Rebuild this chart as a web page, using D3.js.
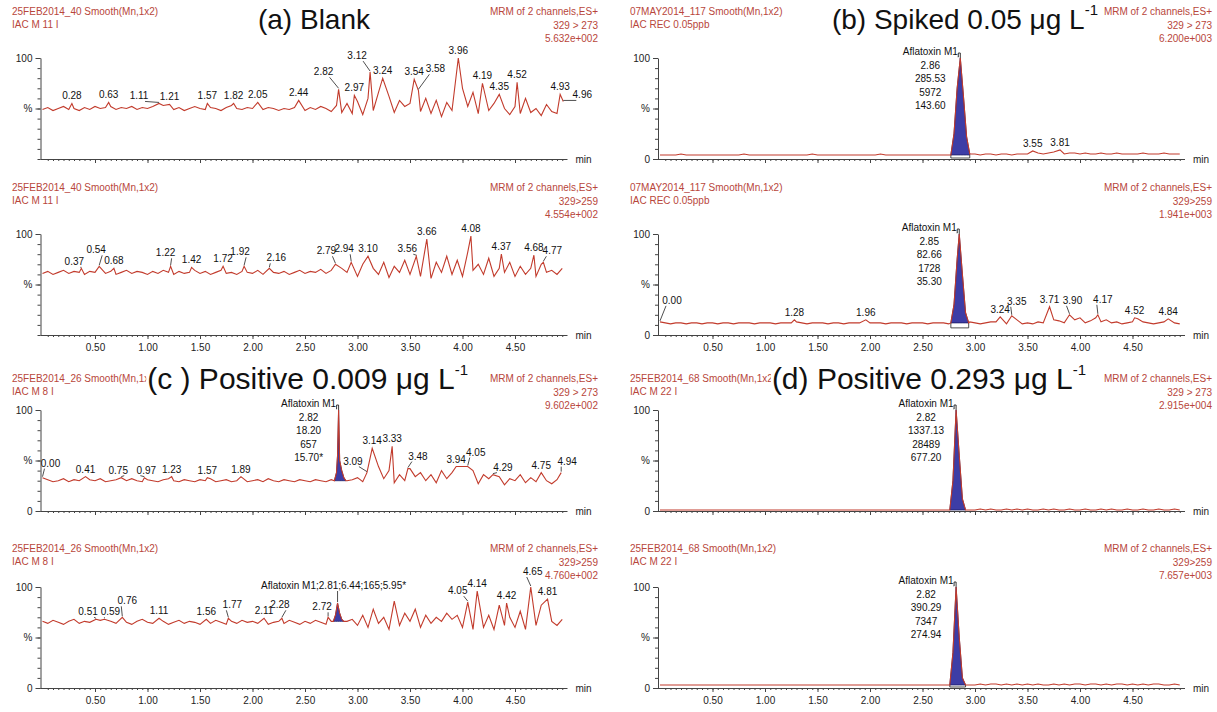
<!DOCTYPE html>
<html>
<head>
<meta charset="utf-8">
<script src="https://cdn.jsdelivr.net/npm/d3@7"></script>
<style>
  body { margin: 0; background: #fff; }
  svg { display: block; }
  text { font-family: "Liberation Sans", Arial, sans-serif; }
</style>
</head>
<body>
<svg id="chart" width="1217" height="712"></svg>
<script>
// sampling step of the baseline arrays (min)
var STEP = 0.05;

// x tick labels (min)
var xTickValues = [0.5, 1.0, 1.5, 2.0, 2.5, 3.0, 3.5, 4.0, 4.5];

// (a) Blank, 329 > 273
var aTopBase = [49,51,48,50,52,49,50,48,51,49, 52,50,51,52,49,51,50,52,49,51,
  50,52,51,53,50,49,51,48,50,52, 50,49,51,50,48,51,53,50,49,51,
  50,52,49,51,50,48,50,49,51,50, 48,51,49,52,50,47,53,46,55,45,
  57,44,60,48,66,50,62,46,58,52, 55,64,47,60,45,58,42,56,48,62,
  70,52,66,45,60,48,55,42,50,44, 52,45,60,46,50,43,54,47,45,50];
var aTopPeaks = [[0.28,55],[0.63,56],[1.11,55],[1.21,54],[1.57,55],[1.82,55],[2.05,56],[2.44,58],
  [2.82,69],[2.97,63],[3.12,86],[3.24,80],[3.54,79],[3.58,68],[3.96,100],[4.19,75],[4.35,64],
  [4.52,76],[4.93,64],[4.96,57]];

// (a) Blank, 329 > 259
var aBotBase = [61,63,60,62,64,61,63,62,60,63, 62,64,61,63,60,62,64,61,63,62,
  60,63,61,64,62,60,63,61,62,64, 61,63,60,62,64,61,62,60,63,62,
  61,64,60,63,62,61,63,60,62,64, 61,63,62,65,61,64,60,66,62,68,
  58,70,62,66,60,72,57,68,62,74, 60,70,58,66,56,72,62,78,60,74,
  58,82,64,70,60,76,58,66,62,72, 58,68,60,66,58,70,62,64,60,66];
var aBotPeaks = [[0.37,66],[0.54,68],[0.68,66],[1.22,68],[1.42,67],[1.72,68],[1.92,68],[2.16,66],
  [2.79,70],[2.94,72],[3.10,78],[3.56,78],[3.66,95],[4.08,98],[4.37,80],[4.68,79],[4.77,72]];

// (b) Spiked, 329 > 273
var bTopBase = [4,4,4,4,5,4,4,4,4,4, 4,4,4,4,4,4,5,4,4,4,
  4,4,4,4,4,4,4,4,4,5, 4,4,4,4,4,4,4,4,4,4,
  4,4,5,4,4,4,4,4,4,4, 4,4,4,4,4,4,4,4,4,4,
  5,4,5,5,4,5,5,4,5,5, 5,6,6,5,6,7,6,5,6,6,
  5,6,5,5,6,5,5,6,5,5, 5,5,6,5,5,5,6,5,5,5];
var bTopPeaks = [[3.55,8],[3.81,9]];
var bTopMain = [[2.77,4],[2.80,25],[2.83,70],[2.86,100],[2.89,62],[2.92,22],[2.95,5]];
var bTopInfo = ["Aflatoxin M1", "2.86", "285.53", "5972", "143.60"];

// (b) Spiked, 329 > 259
var bBotBase = [12,12,11,12,12,11,12,12,11,12, 12,11,12,12,11,12,12,12,11,12,
  12,12,11,12,12,12,13,12,11,12, 12,12,11,12,12,11,12,12,12,11,
  12,12,12,11,12,12,12,11,12,12, 12,11,12,12,12,11,12,12,12,13,
  12,11,12,13,13,12,11,13,15,11, 12,11,13,12,16,15,14,12,13,15,
  17,12,14,17,13,15,12,13,11,12, 13,16,13,12,11,12,13,15,12,11];
var bBotPeaks = [[0.00,13],[1.28,15],[1.96,15],[3.24,18],[3.35,19],[3.71,28],[3.90,20],[4.17,20],[4.52,17],[4.84,16]];
var bBotMain = [[2.77,12],[2.80,30],[2.83,75],[2.85,100],[2.88,60],[2.91,22],[2.94,12]];
var bBotInfo = ["Aflatoxin M1", "2.85", "82.66", "1728", "35.30"];

// (c) Positive 0.009, 329 > 273
var cTopBase = [30,31,29,30,32,29,31,30,29,31, 30,32,29,30,31,29,30,32,30,29,
  31,30,29,31,32,30,29,31,30,29, 31,30,32,29,30,31,29,30,31,29,
  30,31,29,32,30,29,31,30,29,31, 30,29,31,30,29,31,30,29,30,31,
  33,29,38,26,44,32,40,28,36,30, 42,34,38,30,36,28,40,32,38,35,
  44,30,40,27,36,32,28,34,26,32, 30,36,28,33,29,34,30,27,31,30];
var cTopPeaks = [[0.00,33],[0.41,34],[0.75,33],[0.97,33],[1.23,34],[1.57,33],[1.89,34],[3.09,38],
  [3.14,62],[3.33,64],[3.48,42],[3.94,44],[4.05,44],[4.29,36],[4.75,38],[4.94,38]];
var cTopMain = [[2.78,30],[2.80,38],[2.81,55],[2.82,100],[2.83,50],[2.85,40],[2.87,33],[2.89,30]];
var cTopInfo = ["Aflatoxin M1", "2.82", "18.20", "657", "15.70*"];

// (c) Positive 0.009, 329 > 259
var cBotBase = [66,64,67,65,63,66,68,64,66,65, 63,67,65,66,64,67,65,63,66,68,
  65,64,67,66,63,65,67,64,66,65, 63,66,64,67,65,63,66,64,67,65,
  66,64,67,63,65,66,64,67,65,63, 66,64,67,65,63,66,65,64,66,68,
  62,72,60,78,64,70,58,86,62,74, 66,78,60,72,64,70,66,74,68,72,
  60,88,58,78,60,72,58,82,62,70, 60,76,58,70,62,82,60,66,62,68];
var cBotPeaks = [[0.51,68],[0.59,68],[0.76,70],[1.11,69],[1.56,68],[1.77,69],[2.11,69],[2.28,69],
  [2.72,70],[4.05,85],[4.14,96],[4.42,84],[4.65,100],[4.81,88]];
var cBotMain = [[2.77,66],[2.79,72],[2.81,84],[2.83,74],[2.85,68],[2.87,66]];
var cBotInfo = ["Aflatoxin M1;2.81;6.44;165;5.95*"];

// (d) Positive 0.293, 329 > 273
var dTopBase = [1,1,1,1,1,1,1,1,1,1, 1,1,1,1,1,1,1,1,1,1,
  1,1,1,1,1,1,1,1,1,1, 1,1,1,1,1,1,1,1,1,1,
  1,1,1,1,1,1,1,1,1,1, 1,1,1,1,1,1,1,1,1,1,
  1,2,1,2,1,1,2,1,2,1, 2,1,1,2,1,2,1,1,2,1,
  1,2,1,1,2,1,2,1,1,2, 1,1,2,1,1,2,1,1,2,1];
var dTopMain = [[2.76,1],[2.79,30],[2.82,100],[2.85,55],[2.88,12],[2.91,1]];
var dTopInfo = ["Aflatoxin M1", "2.82", "1337.13", "28489", "677.20"];

// (d) Positive 0.293, 329 > 259
var dBotBase = [3,3,3,3,3,3,3,3,3,3, 3,3,3,3,3,3,3,3,3,3,
  3,3,3,3,3,3,3,3,3,3, 3,3,3,3,3,3,3,3,3,3,
  3,3,3,3,3,3,3,3,3,3, 3,3,3,3,3,3,3,3,3,3,
  3,4,3,4,4,3,4,3,4,3, 4,3,4,3,3,4,3,4,3,4,
  4,3,4,4,3,4,3,4,4,3, 4,3,4,3,4,4,3,3,4,3];
var dBotMain = [[2.76,3],[2.79,35],[2.82,100],[2.85,50],[2.88,10],[2.91,3]];
var dBotInfo = ["Aflatoxin M1", "2.82", "390.29", "7347", "274.94"];

// header texts
var leftHeaders = {
  a: ["25FEB2014_40 Smooth(Mn,1x2)", "IAC M 11 I"],
  b: ["07MAY2014_117 Smooth(Mn,1x2)", "IAC REC 0.05ppb"],
  c: ["25FEB2014_26 Smooth(Mn,1x2)", "IAC M 8 I"],
  d: ["25FEB2014_68 Smooth(Mn,1x2)", "IAC M 22 I"]
};
var intensities = ["5.632e+002", "4.554e+002", "6.200e+003", "1.941e+003",
  "9.602e+002", "4.760e+002", "2.915e+004", "7.657e+003"];

// layout of the eight panels (positions only)
var colX = [42.5, 660];              // x of t = 0
var rowZero = [159, 335, 511, 688];  // y of 0 %
var rowHeader = [15, 191, 382, 552]; // baseline of first header line
var plotW = 525, plotH = 101;

var panels = [
  { g: "a", col: 0, row: 0, base: aTopBase, peaks: aTopPeaks, ion: "329 > 273", inten: intensities[0], zero: false,
    nudge: { "1.11": [-20, 0], "2.82": [-15, -10], "3.12": [-13, -9], "3.58": [17, -14], "4.96": [19, 1] } },
  { g: "a", col: 0, row: 1, base: aBotBase, peaks: aBotPeaks, ion: "329>259", inten: intensities[1], zero: false, ticks: true,
    nudge: { "0.37": [-7, 1], "0.54": [-3, -9], "1.22": [-5, -6], "1.92": [-4, -7], "2.16": [7, -3], "2.79": [-9, -6], "2.94": [-7, -6], "3.56": [-9, 0], "4.77": [9, -4] } },
  { g: "b", col: 1, row: 0, base: bTopBase, peaks: bTopPeaks, main: bTopMain, info: bTopInfo, ion: "329 > 273", inten: intensities[2], zero: true, nudge: {} },
  { g: "b", col: 1, row: 1, base: bBotBase, peaks: bBotPeaks, main: bBotMain, info: bBotInfo, ion: "329>259", inten: intensities[3], zero: true, ticks: true,
    nudge: { "0.00": [12, -14], "3.35": [5, -7], "3.90": [3, -7], "4.17": [5, -8] } },
  { g: "c", col: 0, row: 2, base: cTopBase, peaks: cTopPeaks, main: cTopMain, info: cTopInfo, ion: "329 > 273", inten: intensities[4], zero: true,
    nudge: { "0.00": [8, -7], "0.75": [-3, 0], "0.97": [2, 0], "3.09": [-14, -4], "3.48": [10, -5], "4.05": [8, -7], "4.29": [10, 0], "4.94": [6, -4] } },
  { g: "c", col: 0, row: 3, base: cBotBase, peaks: cBotPeaks, main: cBotMain, info: cBotInfo, ion: "329>259", inten: intensities[5], zero: true, ticks: true,
    nudge: { "0.51": [-8, 0], "0.59": [6, 0], "0.76": [5, -9], "1.77": [4, -6], "2.28": [-2, -6], "2.72": [-6, -3], "4.05": [-10, -4], "4.65": [2, -8] } },
  { g: "d", col: 1, row: 2, base: dTopBase, peaks: [], main: dTopMain, info: dTopInfo, ion: "329 > 273", inten: intensities[6], zero: true, nudge: {} },
  { g: "d", col: 1, row: 3, base: dBotBase, peaks: [], main: dBotMain, info: dBotInfo, ion: "329>259", inten: intensities[7], zero: true, ticks: true, nudge: {} }
];

var svg = d3.select("#chart");
var traceColor = "#c23b2c";
var headColor = "#b8463b";
var axisColor = "#444";

panels.forEach(function (p) {
  var x0 = colX[p.col];
  var y0 = rowZero[p.row];
  var x = d3.scaleLinear().domain([0, 5]).range([x0, x0 + plotW]);
  var y = d3.scaleLinear().domain([0, 100]).range([y0, y0 - plotH]);
  var g = svg.append("g");

  // headers
  var hx = p.col === 0 ? 12 : 630;
  var rx = p.col === 0 ? 598 : 1212;
  var hy = rowHeader[p.row];
  var head = g.append("g").attr("fill", headColor).attr("font-size", 10);
  leftHeaders[p.g].forEach(function (s, i) {
    head.append("text").attr("x", hx).attr("y", hy + i * 13).text(s);
  });
  ["MRM of 2 channels,ES+", p.ion, p.inten].forEach(function (s, i) {
    head.append("text").attr("x", rx).attr("y", hy + i * 13.5).attr("text-anchor", "end").text(s);
  });

  // x axis: minor ticks, then major ticks (with labels on lower panels)
  var xMinor = d3.axisBottom(x).tickValues(d3.range(1, 100).map(function (i) { return i * 0.05; }))
    .tickSize(2).tickSizeOuter(0).tickFormat("");
  var xg = g.append("g").attr("transform", "translate(0," + y0 + ")").call(xMinor);
  var xMajor = d3.axisBottom(x).tickValues(xTickValues).tickSize(4).tickSizeOuter(0)
    .tickFormat(p.ticks ? d3.format(".2f") : "");
  var xg2 = g.append("g").attr("transform", "translate(0," + y0 + ")").call(xMajor);
  xg2.select(".domain").remove();
  [xg, xg2].forEach(function (a) {
    a.selectAll("path,line").attr("stroke", axisColor);
    a.selectAll("text").attr("font-size", 10).attr("fill", "#222").attr("dy", "0.9em")
      .attr("font-family", "Liberation Sans, Arial, sans-serif");
  });
  xg.select(".domain").attr("d", "M" + (x0 - 2) + ",0.5H" + (x0 + plotW));
  g.append("text").attr("x", x0 + plotW + 8).attr("y", y0 + 4).attr("font-size", 10).attr("fill", "#222").text("min");

  // y axis
  var yMinor = d3.axisLeft(y).tickValues(d3.range(0, 101, 10)).tickSize(3).tickSizeOuter(0).tickFormat("");
  var yg = g.append("g").attr("transform", "translate(" + (x0 - 2) + ",0)").call(yMinor);
  var yMajor = d3.axisLeft(y).tickValues(p.zero ? [0, 50, 100] : [50, 100]).tickSize(5).tickSizeOuter(0)
    .tickFormat(function (d) { return d === 50 ? "%" : d; });
  var yg2 = g.append("g").attr("transform", "translate(" + (x0 - 2) + ",0)").call(yMajor);
  yg2.select(".domain").remove();
  [yg, yg2].forEach(function (a) {
    a.selectAll("path,line").attr("stroke", axisColor);
    a.selectAll("text").attr("font-size", 10).attr("fill", "#222")
      .attr("font-family", "Liberation Sans, Arial, sans-serif");
  });

  // build the trace from baseline samples, labelled peaks and the main peak
  var pts = p.base.map(function (v, i) { return [i * STEP, v]; });
  var win = p.main ? [p.main[0][0], p.main[p.main.length - 1][0]] : null;
  pts = pts.filter(function (d) {
    if (win && d[0] >= win[0] && d[0] <= win[1]) return false;
    return !p.peaks.some(function (q) { return Math.abs(q[0] - d[0]) < 0.015; });
  });
  pts = pts.concat(p.peaks).concat(p.main || []);
  pts.sort(function (a, b) { return a[0] - b[0]; });

  // main peak fill
  if (p.main) {
    var bl = p.main[0][1];
    var area = d3.area().x(function (d) { return x(d[0]); }).y0(y(bl)).y1(function (d) { return y(d[1]); });
    g.append("path").datum(p.main).attr("d", area).attr("fill", "#3d3da6").attr("stroke", "#1d1d66").attr("stroke-width", 0.8);
    // small integration box under the peak, only when the baseline sits near the axis
    var xa = x(p.main[0][0]), xb = x(p.main[p.main.length - 1][0]);
    var gap = y0 - 1 - y(bl);
    if (gap > 1 && gap < 15) {
      var boxH = Math.min(5, gap);
      g.append("path").attr("d", "M" + xa + "," + y(bl) + "V" + (y(bl) + boxH) + "H" + xb + "V" + y(bl))
        .attr("fill", "none").attr("stroke", "#222").attr("stroke-width", 0.8);
    }
  }

  var line = d3.line().x(function (d) { return x(d[0]); }).y(function (d) { return y(d[1]); });
  g.append("path").datum(pts).attr("d", line).attr("fill", "none").attr("stroke", traceColor).attr("stroke-width", 1.1);

  // labels of minor peaks
  p.peaks.forEach(function (q) {
    var lab = q[0].toFixed(2);
    var n = p.nudge[lab] || [0, 0];
    var px = x(q[0]), py = y(q[1]);
    var tx = px + n[0], ty = py - 4 + n[1];
    g.append("text").attr("x", tx).attr("y", ty).attr("text-anchor", "middle")
      .attr("font-size", 10).attr("fill", "#111").text(lab);
    if (n[0] !== 0 || n[1] !== 0) {
      g.append("path").attr("d", "M" + (tx - (n[0] > 0 ? 10 : -10) * 0.6) + "," + (ty + 2) + "L" + px + "," + (py - 1))
        .attr("stroke", "#222").attr("stroke-width", 0.8).attr("fill", "none");
    }
  });

  // label of the main peak
  if (p.info) {
    var top = p.main.reduce(function (a, b) { return b[1] > a[1] ? b : a; });
    var ax = x(top[0]), ay = y(top[1]);
    if (p.info.length === 1) {
      var sy = y(100) + 2;
      g.append("text").attr("x", ax - 4).attr("y", sy).attr("text-anchor", "middle")
        .attr("font-size", 10).attr("fill", "#111").text(p.info[0]);
      g.append("path").attr("d", "M" + ax + "," + (sy + 2) + "V" + (ay - 1))
        .attr("stroke", "#222").attr("stroke-width", 0.8);
    } else {
      var cx = ax - 30, ly = y(100) - 3;
      var t0 = g.append("text").attr("x", cx).attr("y", ly).attr("text-anchor", "middle")
        .attr("font-size", 10).attr("fill", "#111").text(p.info[0]);
      var w = t0.node().getComputedTextLength();
      p.info.slice(1).forEach(function (s, i) {
        g.append("text").attr("x", cx).attr("y", ly + 13.5 * (i + 1)).attr("text-anchor", "middle")
          .attr("font-size", 10).attr("fill", "#111").text(s);
      });
      g.append("path").attr("d", "M" + (cx + w / 2) + "," + (ly + 2) + "H" + (ax - 2) + "V" + (ly - 2) + "H" + ax + "V" + ay)
        .attr("fill", "none").attr("stroke", "#222").attr("stroke-width", 0.9);
    }
  }
});

// panel titles
var titles = [
  { parts: ["(a) Blank"], x: 314, y: 29, size: 28, anchor: "middle" },
  { parts: ["(b) Spiked 0.05 \u03bcg L", "-1"], x: 1098, y: 29, size: 28, anchor: "end" },
  { parts: ["(c ) Positive 0.009 \u03bcg L", "-1"], x: 468, y: 389, size: 30, anchor: "end" },
  { parts: ["(d) Positive 0.293 \u03bcg L", "-1"], x: 1086, y: 389, size: 30, anchor: "end" }
];
titles.forEach(function (t) {
  var bg = svg.append("rect").attr("fill", "#fff");
  var txt = svg.append("text").attr("x", t.x).attr("y", t.y).attr("text-anchor", t.anchor)
    .attr("font-size", t.size).attr("fill", "#111");
  txt.append("tspan").text(t.parts[0]);
  if (t.parts[1]) {
    txt.append("tspan").attr("font-size", 15).attr("dy", -14).text(t.parts[1]);
  }
  var bb = txt.node().getBBox();
  // white patch only over the header band, so the title hides the header text it overlaps
  bg.attr("x", bb.x - 1).attr("y", bb.y + 4).attr("width", bb.width + 1).attr("height", t.y - bb.y - 8);
});
</script>
</body>
</html>
